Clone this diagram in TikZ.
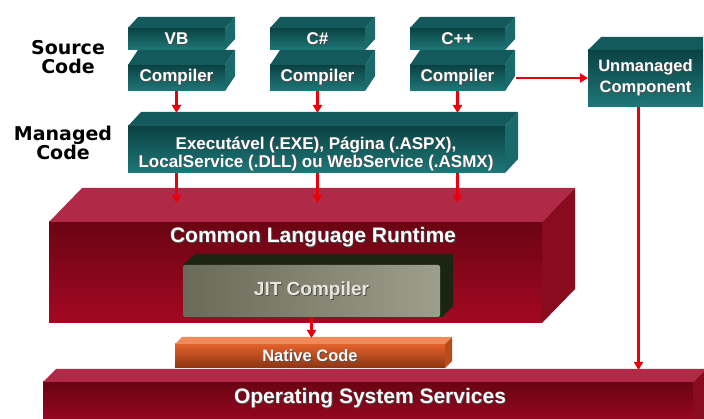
\documentclass[tikz,border=0pt]{standalone}
\usepackage{fontspec}
\setmainfont{Liberation Sans}
\newfontfamily\labelfont{DejaVu Sans}
\usetikzlibrary{arrows.meta}

% palette
\definecolor{tealTop}{HTML}{145A5C}
\definecolor{tealFrontA}{HTML}{0B4244}
\definecolor{tealFrontB}{HTML}{1F7878}
\definecolor{tealSide}{HTML}{1A6A6C}
\definecolor{crimTop}{HTML}{B02A47}
\definecolor{crimFrontA}{HTML}{6A0413}
\definecolor{crimFrontB}{HTML}{A40822}
\definecolor{crimSide}{HTML}{8A0A1E}
\definecolor{orgTop}{HTML}{F08A5A}
\definecolor{orgFrontA}{HTML}{E2622C}
\definecolor{orgFrontB}{HTML}{8C3412}
\definecolor{orgSide}{HTML}{B84C1C}
\definecolor{jitA}{HTML}{6A6A58}
\definecolor{jitB}{HTML}{BEBEAE}
\definecolor{jitC}{HTML}{9E9E8C}
\definecolor{recess}{HTML}{1B2612}
\definecolor{flow}{HTML}{E8000C}
\definecolor{jitText}{HTML}{E6E6DC}

% white text with a small dark drop shadow
\newcommand{\shadowed}[1]{\leavevmode\rlap{\kern0.9pt\raisebox{-0.9pt}{\textcolor{black!70}{#1}}}#1}

% top and right faces of a block whose front face is the node #1
\newcommand{\blockfaces}[5]{%
  \fill[#4] (#1.north west) -- ++(#2,-#3) -- ([shift={(#2,-#3)}]#1.north east) -- (#1.north east) -- cycle;
  \fill[#5] (#1.north east) -- ++(#2,-#3) -- ([shift={(#2,-#3)}]#1.south east) -- (#1.south east) -- cycle;
}

\tikzset{
  every node/.style={inner sep=0pt, outer sep=0pt},
  face/.style={anchor=north west, text=white, align=center,
    font=\bfseries\fontsize{17}{18}\selectfont},
  tealface/.style={face, top color=tealFrontA, bottom color=tealFrontB},
  crimface/.style={face, top color=crimFrontA, bottom color=crimFrontB},
  orgface/.style={face, top color=orgFrontA, bottom color=orgFrontB},
  boxtext/.style={text=white, align=center, font=\bfseries\fontsize{17}{18}\selectfont},
  bigtext/.style={text=white, font=\bfseries\fontsize{21}{24}\selectfont},
  caption/.style={align=center, font=\labelfont\bfseries\fontsize{19}{18.5}\selectfont},
  flowline/.style={draw=flow, line width=2.8pt, -{Triangle[length=8pt,width=9pt]}},
}

\begin{document}
\begin{tikzpicture}[x=1pt, y=-1pt]
\useasboundingbox (0,0) rectangle (704,419);
\clip (0,0) rectangle (704,419);
\fill[white] (0,0) rectangle (704,419);

% side captions
\node[caption] (src) at (68,57) {Source\\Code};
\node[caption] (mgd) at (63,143) {Managed\\Code};

% source languages and their compilers
\node[tealface, minimum width=97pt, minimum height=22pt] (vb) at (128,28) {\shadowed{VB}};
\blockfaces{vb}{10}{11}{tealTop}{tealSide}
\node[tealface, minimum width=97pt, minimum height=26pt] (vbc) at (128,65) {\shadowed{Compiler}};
\blockfaces{vbc}{10}{15}{tealTop}{tealSide}

\node[tealface, minimum width=95pt, minimum height=22pt] (cs) at (270,28) {\shadowed{C\#}};
\blockfaces{cs}{10}{11}{tealTop}{tealSide}
\node[tealface, minimum width=95pt, minimum height=26pt] (csc) at (270,65) {\shadowed{Compiler}};
\blockfaces{csc}{10}{15}{tealTop}{tealSide}

\node[tealface, minimum width=95pt, minimum height=22pt] (cpp) at (410,28) {\shadowed{C++}};
\blockfaces{cpp}{10}{11}{tealTop}{tealSide}
\node[tealface, minimum width=95pt, minimum height=26pt] (cppc) at (410,65) {\shadowed{Compiler}};
\blockfaces{cppc}{10}{15}{tealTop}{tealSide}

% unmanaged component
\node[tealface, minimum width=115pt, minimum height=57pt,
  font=\bfseries\fontsize{16.5}{21}\selectfont] (unm) at (588,50)
  {\shadowed{Unmanaged}\\\shadowed{Component}};
\fill[tealTop] (unm.north west) -- ++(13,-13) -- ([yshift=13pt]unm.north east) -- (unm.north east) -- cycle;

% managed code block
\node[tealface, minimum width=377pt, minimum height=47pt] (man) at (128,126) {};
\blockfaces{man}{13}{14}{tealTop}{tealSide}
\node[boxtext] (mantxt) at (316,154)
  {\shadowed{Executável (.EXE), Página (.ASPX),}\\\shadowed{LocalService (.DLL) ou WebService (.ASMX)}};

% common language runtime
\node[crimface, minimum width=493pt, minimum height=101pt] (clr) at (49,222) {};
\blockfaces{clr}{33}{34}{crimTop}{crimSide}
\node[bigtext] (clrtxt) at (313,238) {\shadowed{Common Language Runtime}};

% JIT compiler set into the runtime
\fill[recess] (183,265) -- (195,254) -- (453,254) -- (453,306) -- (442,317) -- (183,317) -- cycle;
\node[anchor=north west, minimum width=257pt, minimum height=52pt, rounded corners=2pt,
  left color=jitA, middle color=jitB, right color=jitC, text=jitText,
  font=\bfseries\fontsize{19}{21}\selectfont] (jit) at (183,265) {\shadowed{JIT Compiler}};

% operating system services
\node[crimface, minimum width=650pt, minimum height=50pt] (os) at (43,382) {};
\blockfaces{os}{13}{13}{crimTop}{crimSide}
\node[bigtext] (ostxt) at (370,399) {\shadowed{Operating System Services}};

% native code
\node[orgface, minimum width=270pt, minimum height=24pt,
  font=\bfseries\fontsize{16.5}{18}\selectfont] (nat) at (175,344) {\shadowed{Native Code}};
\blockfaces{nat}{7}{7}{orgTop}{orgSide}

% connector end points on the top faces
\coordinate (manTop) at ([yshift=13pt]man.north);
\coordinate (clrTop) at ([yshift=19pt]clr.north);
\coordinate (natTop) at ([yshift=6pt]nat.north);
\coordinate (osTop) at ([yshift=12pt]os.north);
\coordinate (cppOut) at ([xshift=11pt]cppc.east);
\coordinate (unmOut) at ([xshift=-7pt]unm.south);

% flow
\draw[flowline] (vbc.south) -- (vbc.south |- manTop);
\draw[flowline] (csc.south) -- (csc.south |- manTop);
\draw[flowline] (cppc.south) -- (cppc.south |- manTop);
\draw[flowline] (vbc.south |- man.south) -- (vbc.south |- clrTop);
\draw[flowline] (csc.south |- man.south) -- (csc.south |- clrTop);
\draw[flowline] (cppc.south |- man.south) -- (cppc.south |- clrTop);
\draw[flowline] (cppOut) -- (cppOut -| unm.west);
\draw[flowline] (unmOut) -- (unmOut |- osTop);
\draw[flowline] (jit.south) -- (jit.south |- natTop);
\end{tikzpicture}
\end{document}
